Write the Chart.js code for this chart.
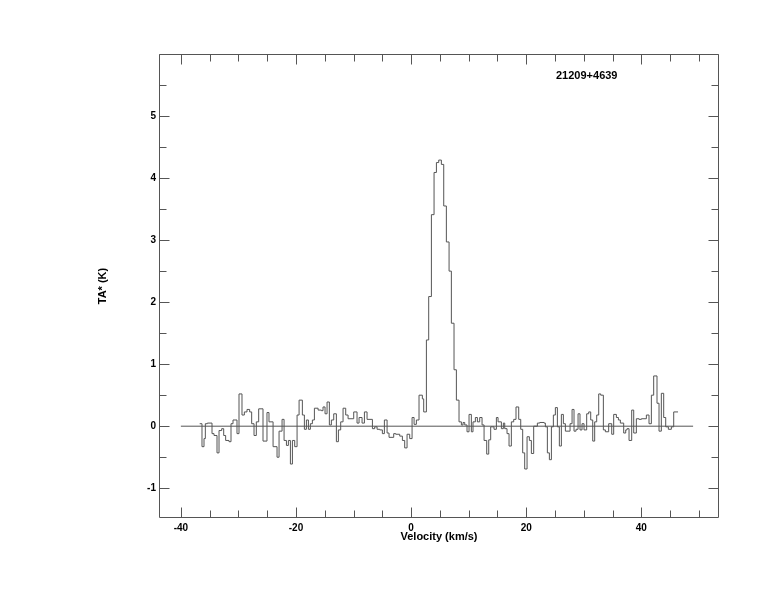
<!DOCTYPE html>
<html>
<head>
<meta charset="utf-8">
<script src="https://cdn.jsdelivr.net/npm/chart.js@4/dist/chart.umd.min.js"></script>
<style>
html,body{margin:0;padding:0;background:#fff;}
#wrap{width:774px;height:612px;}
</style>
</head>
<body>
<div id="wrap"><canvas id="c" width="774" height="612"></canvas></div>
<script>
// ---- data ----
const sourceName = "21209+4639";
const xAxisTitle = "Velocity (km/s)";
const yAxisTitle = "TA* (K)";
// channel start velocities (km/s)
const velocityStarts = [
-36.73,-36.33,-35.98,-35.75,-35.40,-34.59,-34.24,-33.72,-33.37,-32.91,-32.56,-32.22,-31.64,-31.29,-30.94,-30.25,
-29.90,-29.38,-28.97,-28.51,-28.05,-27.70,-27.29,-26.89,-26.48,-25.73,-25.04,-24.69,-23.98,-23.29,-22.94,-22.42,
-22.07,-21.66,-21.32,-20.97,-20.62,-20.22,-19.81,-19.46,-18.89,-18.54,-18.19,-17.84,-17.50,-17.15,-16.80,-16.16,
-15.59,-15.30,-14.95,-14.60,-14.20,-13.85,-13.44,-12.98,-12.63,-12.23,-11.82,-11.36,-10.95,-9.97,-9.39,-9.04,
-8.52,-8.11,-7.65,-6.72,-6.32,-5.91,-5.45,-4.99,-4.64,-4.17,-3.83,-3.02,-2.67,-1.97,-1.51,-1.11,-0.70,-0.24,
0.17,0.52,0.92,1.38,1.96,2.19,2.66,3.06,3.53,3.99,4.40,4.80,5.26,5.67,6.13,6.60,7.00,7.46,7.87,8.33,8.74,
9.03,9.32,9.72,10.07,10.47,10.76,11.17,11.52,11.92,12.33,12.68,13.14,13.49,13.83,14.41,14.82,15.11,15.69,
16.03,16.27,16.67,17.02,17.42,17.83,18.23,18.70,19.05,19.39,19.74,20.15,20.55,20.90,21.30,21.94,22.35,23.10,
23.33,23.68,24.03,24.38,24.72,25.07,25.42,25.76,26.11,26.46,26.81,27.62,27.97,28.31,28.66,29.01,29.35,29.70,
30.05,30.51,30.86,31.21,31.56,31.90,32.25,32.60,32.95,33.41,33.76,34.33,34.86,35.20,35.67,36.02,36.36,36.94,
37.29,37.52,37.87,38.33,38.68,39.14,39.61,40.01,40.88,41.34,41.75,42.15,42.73,43.08,43.48,43.89,44.24,44.70,
45.22,45.63
];
// antenna temperature of each channel (K)
const tempValues = [
0.04,-0.33,-0.20,0.04,0.05,-0.12,-0.15,-0.43,-0.07,-0.04,-0.15,-0.23,-0.25,0.04,0.10,-0.12,
0.52,0.18,0.23,0.27,0.23,0.04,-0.15,0.07,0.28,-0.24,0.22,0.07,-0.33,-0.50,-0.08,0.11,
-0.23,-0.31,-0.23,-0.61,-0.23,-0.33,0.18,0.42,0.18,-0.05,0.10,-0.05,0.04,0.10,0.29,0.26,
0.25,0.31,0.20,0.39,0.02,0.10,0.20,-0.25,-0.06,0.07,0.29,0.18,0.12,0.23,0.05,0.14,
0.05,0.23,0.11,-0.04,-0.01,-0.05,-0.06,-0.12,0.10,-0.11,-0.18,-0.12,-0.13,-0.16,-0.23,-0.35,-0.13,-0.20,
0.14,0.03,0.10,0.50,0.44,0.23,1.39,2.09,3.41,4.09,4.25,4.29,4.22,3.55,2.97,2.50,1.66,0.91,0.42,0.07,0.02,
0.06,0.02,-0.09,0.19,-0.09,0.07,0.14,0.07,0.14,0.02,-0.23,-0.45,-0.22,-0.01,-0.05,0.14,0.07,-0.04,
0.05,-0.04,-0.12,-0.32,0.07,0.11,0.31,0.11,-0.05,-0.43,-0.69,-0.17,-0.23,-0.44,0.00,0.05,0.06,0.05,
-0.01,-0.43,-0.54,-0.01,0.18,0.30,-0.01,-0.32,0.19,0.04,-0.08,0.04,0.27,-0.08,-0.05,0.20,-0.06,0.04,
-0.06,0.20,0.23,0.10,-0.24,0.07,0.18,0.52,0.50,-0.06,-0.09,0.04,-0.13,0.19,0.14,0.10,0.05,-0.11,
-0.06,-0.04,-0.23,0.26,-0.11,0.12,0.11,0.12,0.18,0.04,0.50,0.81,0.37,-0.08,0.53,0.14,-0.01,-0.05,
-0.01,0.23
];
const spectrumEnd = 46.38;
const baselineRange = [-40, 49];
const xTickLabels = [-40, -20, 0, 20, 40];
const yTickLabels = [-1, 0, 1, 2, 3, 4, 5];
const xRange = [-43.8, 53.5];
const yRange = [-1.48, 6];

// ---- build chart data ----
const spectrum = velocityStarts.map((v, i) => ({x: v, y: tempValues[i]}));
spectrum.push({x: spectrumEnd, y: tempValues[tempValues.length - 1]});
const baseline = baselineRange.map(v => ({x: v, y: 0}));

const LINE = '#555555';
const FONT = "'Liberation Sans', Arial, sans-serif";

const framePlugin = {
  id: 'frame',
  afterDraw(chart) {
    const {ctx, chartArea: a, scales} = chart;
    const xs = scales.x, ys = scales.y;
    ctx.save();
    ctx.strokeStyle = LINE;
    ctx.lineWidth = 1;
    const L = Math.round(a.left) + 0.5, R = Math.round(a.right) - 0.5;
    const T = Math.round(a.top) + 0.5, B = Math.round(a.bottom) - 0.5;
    ctx.beginPath();
    ctx.rect(L, T, R - L, B - T);
    ctx.stroke();
    ctx.beginPath();
    // x ticks (major every 20, minor every 5), inward on bottom and top
    for (let v = -40; v <= 50; v += 5) {
      const px = Math.round(xs.getPixelForValue(v)) + 0.5;
      const len = (v % 20 === 0) ? 10 : 7;
      ctx.moveTo(px, B); ctx.lineTo(px, B - len);
      ctx.moveTo(px, T); ctx.lineTo(px, T + len);
    }
    // y ticks (major every 1, minor every 0.5), inward on left and right
    for (let k = -2; k <= 12; k++) {
      const v = k / 2;
      if (v < yRange[0] || v > yRange[1]) continue;
      const py = Math.round(ys.getPixelForValue(v)) + 0.5;
      const len = (k % 2 === 0) ? 10 : 7;
      ctx.moveTo(L, py); ctx.lineTo(L + len, py);
      ctx.moveTo(R, py); ctx.lineTo(R - len, py);
    }
    ctx.stroke();
    // titles
    ctx.fillStyle = '#000';
    ctx.font = "bold 11px " + FONT;
    ctx.textAlign = 'center';
    ctx.textBaseline = 'middle';
    ctx.fillText(xAxisTitle, (a.left + a.right) / 2, 537);
    ctx.save();
    ctx.translate(103, (a.top + a.bottom) / 2);
    ctx.rotate(-Math.PI / 2);
    ctx.fillText(yAxisTitle, 0, 0);
    ctx.restore();
    ctx.textAlign = 'left';
    ctx.fillText(sourceName, 556, 76);
    ctx.restore();
  }
};

new Chart(document.getElementById('c'), {
  type: 'line',
  data: {
    datasets: [
      {data: spectrum, stepped: true, borderColor: LINE, borderWidth: 1, pointRadius: 0, fill: false},
      {data: baseline, borderColor: LINE, borderWidth: 1, pointRadius: 0, fill: false}
    ]
  },
  options: {
    responsive: false,
    devicePixelRatio: 1,
    animation: false,
    events: [],
    layout: {padding: {top: 54, right: 55, left: 0, bottom: 0}},
    plugins: {legend: {display: false}, tooltip: {enabled: false}, title: {display: false}},
    scales: {
      x: {
        type: 'linear', min: xRange[0], max: xRange[1],
        grid: {display: false, drawTicks: false},
        border: {display: false},
        afterBuildTicks: s => { s.ticks = xTickLabels.map(v => ({value: v})); },
        afterFit: s => { s.height = 94; },
        ticks: {padding: 4, color: '#000', font: {family: FONT, size: 10, weight: 'bold'}, maxRotation: 0, autoSkip: false}
      },
      y: {
        type: 'linear', min: yRange[0], max: yRange[1],
        grid: {display: false, drawTicks: false},
        border: {display: false},
        afterBuildTicks: s => { s.ticks = yTickLabels.map(v => ({value: v})); },
        afterFit: s => { s.width = 159; },
        ticks: {padding: 3, color: '#000', font: {family: FONT, size: 10, weight: 'bold'}, autoSkip: false}
      }
    }
  },
  plugins: [framePlugin]
});
</script>
</body>
</html>
